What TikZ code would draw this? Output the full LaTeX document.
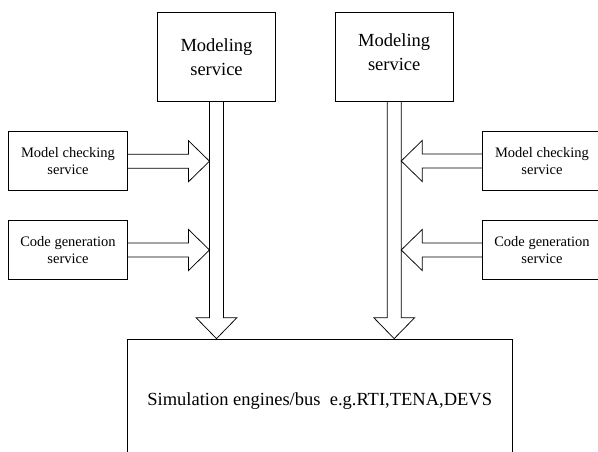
\documentclass[tikz,border=0pt]{standalone}
\usepackage{fontspec}
\setmainfont{Liberation Serif}
\usetikzlibrary{calc}

\tikzset{
  blockarrow/.style={to path={
      ($(\tikztotarget)!21pt!(\tikztostart)$) coordinate (h)
      ($(\tikztostart)!7pt!90:(\tikztotarget)$) -- ($(h)!7pt!90:(\tikztotarget)$)
      -- ($(h)!20.5pt!90:(\tikztotarget)$) -- (\tikztotarget)
      -- ($(h)!20.5pt!-90:(\tikztotarget)$) -- ($(h)!7pt!-90:(\tikztotarget)$)
      -- ($(\tikztostart)!7pt!-90:(\tikztotarget)$)}}
}

\begin{document}
\begin{tikzpicture}[x=1pt,y=-1pt,line width=0.75pt,
    bigfont/.style={font=\fontsize{18.5}{24}\selectfont},
    smallfont/.style={font=\fontsize{14.5}{17.5}\selectfont},
    modelbox/.style={draw,bigfont,align=center,inner sep=0pt,minimum width=118.4pt,minimum height=88.5pt},
    svcbox/.style={draw,smallfont,align=center,inner sep=0pt,minimum width=119.4pt,minimum height=58.8pt}]
  \useasboundingbox (0,0) rectangle (598,452);

  % modeling services on top
  \node[modelbox] (ms1) at (216.5,56.7) {Modeling\\service};
  \node[modelbox] (ms2) at (394.2,56.8) {};
  \node[bigfont,align=center] at ([yshift=5pt]ms2.center) {Modeling\\service};

  % side services
  \node[svcbox] (mc1) at (68,161.2) {Model checking\\service};
  \node[svcbox] (cg1) at (68,250) {Code generation\\service};
  \node[svcbox] (mc2) at (542,161) {Model checking\\service};
  \node[svcbox] (cg2) at (542,250) {Code generation\\service};

  % engines
  \node[draw,bigfont,inner sep=0pt,minimum width=384.7pt,minimum height=124pt] (bus) at (319.7,401)
    {Simulation engines/bus\ \ e.g.RTI,TENA,DEVS};

  \coordinate (l1) at ([xshift=-7pt]ms1.south);
  \coordinate (r1) at ([xshift=7pt]ms2.south);

  \draw (ms1.south) to[blockarrow] (ms1.south |- bus.north);
  \draw (ms2.south) to[blockarrow] (ms2.south |- bus.north);
  \draw (mc1.east) to[blockarrow] (mc1.east -| l1);
  \draw (cg1.east) to[blockarrow] (cg1.east -| l1);
  \draw (mc2.west) to[blockarrow] (mc2.west -| r1);
  \draw (cg2.west) to[blockarrow] (cg2.west -| r1);
\end{tikzpicture}
\end{document}
